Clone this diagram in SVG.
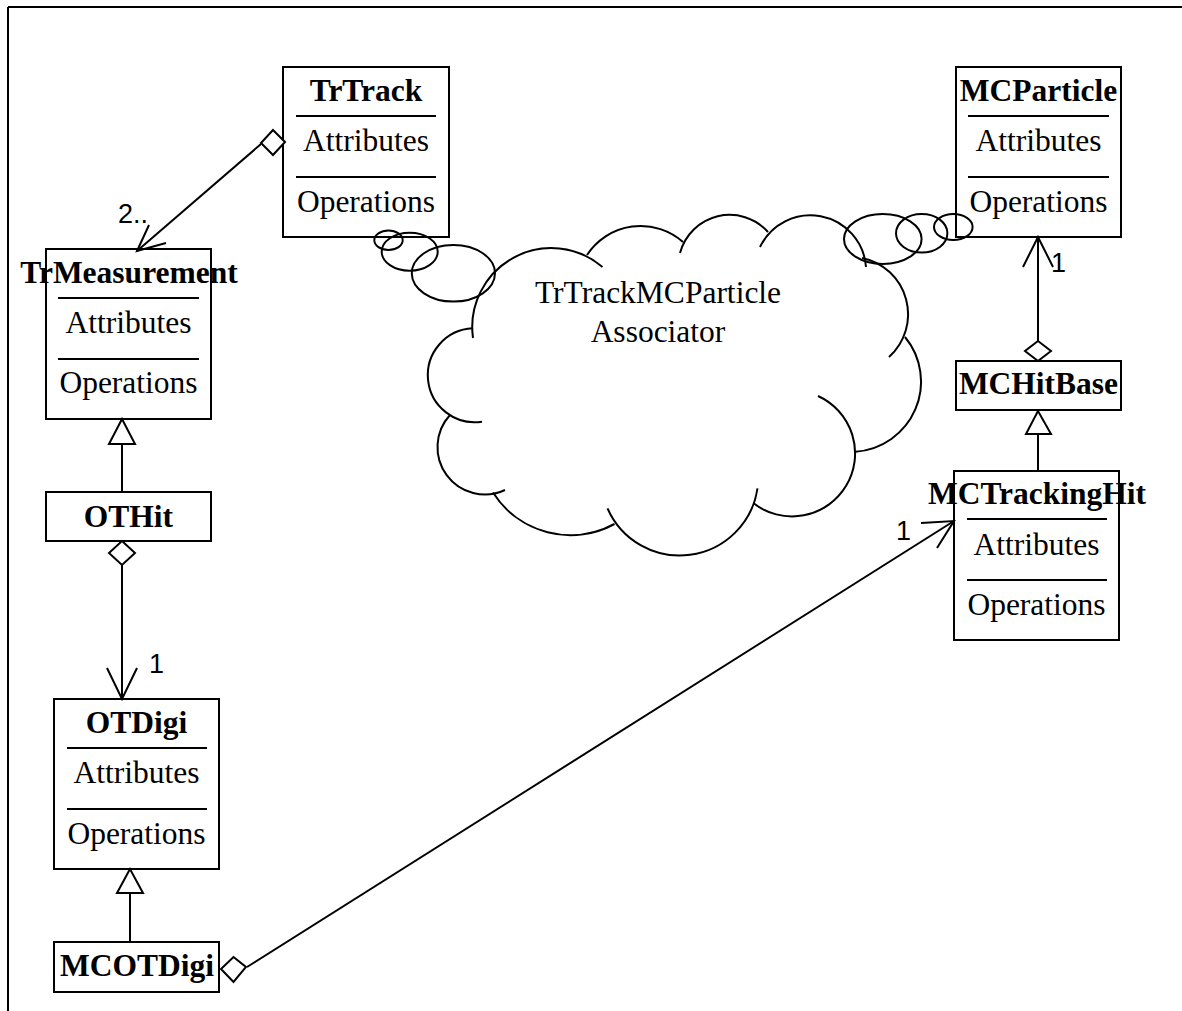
<svg xmlns="http://www.w3.org/2000/svg" width="1182" height="1011" viewBox="0 0 1182 1011">
  <style>
    .box { fill: none; stroke: #000; stroke-width: 2; }
    .sep { stroke: #000; stroke-width: 2; }
    .t { font-family: "Liberation Serif", "Times New Roman", serif; font-size: 31.5px; text-anchor: middle; fill: #000; }
    .b { font-weight: bold; }
    .lbl { font-family: "Liberation Sans", Arial, sans-serif; font-size: 27px; fill: #000; }
    .ln { fill: none; stroke: #000; stroke-width: 2; }
    .hd { fill: #fff; stroke: #000; stroke-width: 2; stroke-linejoin: miter; }
    .cl { fill: none; stroke: #000; stroke-width: 2; }
  </style>

  <rect x="0" y="0" width="1182" height="1011" fill="#fff"/>

  <!-- page frame -->
  <g id="frame" class="ln">
    <line x1="8" y1="7" x2="1182" y2="7"/>
    <line x1="8" y1="7" x2="8" y2="1011"/>
  </g>

  <!-- associator cloud with its thought bubbles -->
  <g id="associator">
    <path class="cl" d="M473,338 A79,79 0 0 1 602.5,267"/>
    <path class="cl" d="M587,255 A64,64 0 0 1 683,242"/>
    <path class="cl" d="M680,253 A51.4,51.4 0 0 1 768,232"/>
    <path class="cl" d="M760,247 A55.8,55.8 0 0 1 866,267"/>
    <path class="cl" d="M862,258 A57.4,57.4 0 0 1 889,357"/>
    <path class="cl" d="M905,337 A70.2,70.2 0 0 1 855.5,451.7"/>
    <path class="cl" d="M818,396 A63,63 0 1 1 753.6,503.3"/>
    <path class="cl" d="M757.5,488.3 A78.7,78.7 0 0 1 607.5,508.3"/>
    <path class="cl" d="M614.5,524 A92,92 0 0 1 493,492.5"/>
    <path class="cl" d="M505,490 A47.4,47.4 0 0 1 450,415"/>
    <path class="cl" d="M482,421.7 A47,47 0 1 1 472.7,328.3"/>
    <ellipse class="cl" cx="388.5" cy="240.3" rx="14.2" ry="9.7"/>
    <ellipse class="cl" cx="409.7" cy="251.7" rx="28" ry="19"/>
    <ellipse class="cl" cx="453.4" cy="273.3" rx="41.6" ry="28.3"/>
    <ellipse class="cl" cx="953.3" cy="227" rx="19.3" ry="13"/>
    <ellipse class="cl" cx="921.7" cy="233.3" rx="25.7" ry="19.3"/>
    <ellipse class="cl" cx="882.8" cy="239" rx="38.8" ry="25"/>
    <text class="t" x="658" y="303">TrTrackMCParticle</text>
    <text class="t" x="658" y="342">Associator</text>
  </g>

  <!-- classes -->
  <g id="TrTrack">
    <rect class="box" x="283" y="67" width="166" height="170"/>
    <line class="sep" x1="296" y1="116" x2="436" y2="116"/>
    <line class="sep" x1="296" y1="177" x2="436" y2="177"/>
    <text class="t b" x="366" y="101">TrTrack</text>
    <text class="t" x="366" y="151">Attributes</text>
    <text class="t" x="366" y="212">Operations</text>
  </g>

  <g id="MCParticle">
    <rect class="box" x="956" y="67" width="165" height="170"/>
    <line class="sep" x1="968" y1="116" x2="1109" y2="116"/>
    <line class="sep" x1="968" y1="177" x2="1109" y2="177"/>
    <text class="t b" x="1038.5" y="101">MCParticle</text>
    <text class="t" x="1038.5" y="151">Attributes</text>
    <text class="t" x="1038.5" y="212">Operations</text>
  </g>

  <g id="TrMeasurement">
    <rect class="box" x="46" y="249" width="165" height="170"/>
    <line class="sep" x1="58" y1="298" x2="199" y2="298"/>
    <line class="sep" x1="58" y1="359" x2="199" y2="359"/>
    <text class="t b" x="129" y="283">TrMeasurement</text>
    <text class="t" x="128.5" y="333">Attributes</text>
    <text class="t" x="128.5" y="393">Operations</text>
  </g>

  <g id="OTHit">
    <rect class="box" x="46" y="492" width="165" height="49"/>
    <text class="t b" x="128.5" y="527">OTHit</text>
  </g>

  <g id="OTDigi">
    <rect class="box" x="54" y="699" width="165" height="170"/>
    <line class="sep" x1="67" y1="748" x2="207" y2="748"/>
    <line class="sep" x1="67" y1="809" x2="207" y2="809"/>
    <text class="t b" x="136.5" y="733">OTDigi</text>
    <text class="t" x="136.5" y="783">Attributes</text>
    <text class="t" x="136.5" y="844">Operations</text>
  </g>

  <g id="MCOTDigi">
    <rect class="box" x="54" y="942" width="165" height="50"/>
    <text class="t b" x="137" y="976">MCOTDigi</text>
  </g>

  <g id="MCHitBase">
    <rect class="box" x="956" y="361" width="165" height="49"/>
    <text class="t b" x="1038.5" y="394">MCHitBase</text>
  </g>

  <g id="MCTrackingHit">
    <rect class="box" x="954" y="471" width="165" height="169"/>
    <line class="sep" x1="967" y1="519" x2="1107" y2="519"/>
    <line class="sep" x1="967" y1="580" x2="1107" y2="580"/>
    <text class="t b" x="1037" y="504">MCTrackingHit</text>
    <text class="t" x="1036.5" y="555">Attributes</text>
    <text class="t" x="1036.5" y="615">Operations</text>
  </g>

  <!-- associations and generalizations -->
  <g id="connectors">
    <!-- TrTrack aggregates TrMeasurement -->
    <line class="ln" x1="261" y1="144" x2="137" y2="251"/>
    <polyline class="ln" points="149,225 137,251 166,243"/>
    <polygon class="hd" points="285,142 273,130 261,143 273,155"/>
    <text class="lbl" x="118" y="223">2..</text>

    <!-- OTHit specializes TrMeasurement -->
    <line class="ln" x1="122" y1="444" x2="122" y2="492"/>
    <polygon class="hd" points="122,419 109,444 135,444"/>

    <!-- OTHit aggregates OTDigi -->
    <line class="ln" x1="122" y1="565" x2="122" y2="699"/>
    <polyline class="ln" points="107,668 122,699 137,668"/>
    <polygon class="hd" points="122,541 135,553 122,565 109,553"/>
    <text class="lbl" x="149" y="673">1</text>

    <!-- MCOTDigi specializes OTDigi -->
    <line class="ln" x1="130" y1="893" x2="130" y2="942"/>
    <polygon class="hd" points="130,869 117,893 143,893"/>

    <!-- MCOTDigi aggregates MCTrackingHit -->
    <line class="ln" x1="247" y1="967" x2="954" y2="521"/>
    <polyline class="ln" points="921,523 954,521 937,548"/>
    <polygon class="hd" points="221,969 233.5,957 246,967 233.5,982"/>
    <text class="lbl" x="896" y="540">1</text>

    <!-- MCTrackingHit specializes MCHitBase -->
    <line class="ln" x1="1038" y1="434" x2="1038" y2="471"/>
    <polygon class="hd" points="1038,411 1026,434 1051,434"/>

    <!-- MCHitBase aggregates MCParticle -->
    <line class="ln" x1="1038" y1="341" x2="1038" y2="237"/>
    <polyline class="ln" points="1023,267 1038,237 1053,267"/>
    <polygon class="hd" points="1038,341 1051,351 1038,361 1025,351"/>
    <text class="lbl" x="1051" y="272">1</text>
  </g>
</svg>
